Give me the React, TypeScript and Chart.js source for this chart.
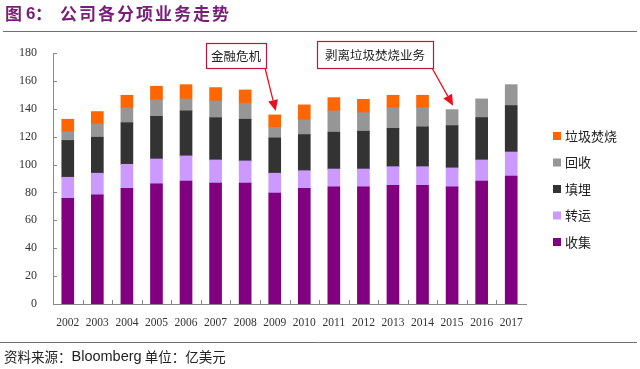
import React, { useEffect, useRef } from "react";
import { Chart, registerables } from "chart.js";

Chart.register(...registerables);

const years = ["2002","2003","2004","2005","2006","2007","2008","2009","2010","2011","2012","2013","2014","2015","2016","2017"];
const collect = [75.8, 78.2, 83, 86.1, 88.2, 86.8, 86.8, 79.6, 83, 84.1, 84.1, 85.1, 85.1, 84.1, 88.2, 91.8];
const transfer = [15.1, 15.6, 17.2, 17.9, 18, 16.5, 15.8, 14.2, 12.6, 12.7, 12.7, 13.4, 13.4, 13.5, 15.1, 17.2];
const landfill = [26.4, 25.8, 29.8, 30.6, 32.3, 30.3, 29.9, 25.3, 25.9, 26.4, 27.1, 27.5, 28.5, 30.3, 30.4, 33.3];
const recycle = [6.3, 9.5, 10.6, 11.7, 8.5, 12, 11.5, 7.4, 10.5, 15.3, 13.3, 14.8, 13.8, 11.5, 13.4, 15];
const incinerate: (number | null)[] = [8.9, 8.9, 9.1, 9.9, 10.3, 9.6, 9.5, 9.1, 10.8, 9.5, 9.6, 8.9, 8.9, null, null, null];
const seriesNames = ["收集", "转运", "填埋", "回收", "垃圾焚烧"];
const seriesColors = ["#800080", "#CC99FF", "#333333", "#969696", "#FF6600"];
const yTicks = [0, 20, 40, 60, 80, 100, 120, 140, 160, 180];
const titleText = "图 6：公司各分项业务走势";
const sourceText = "资料来源：";
const sourceName = "Bloomberg";
const unitText = " 单位：亿美元";
const annotations = [
  { text: "金融危机", year: "2009", box: [206, 43, 60, 25] },
  { text: "剥离垃圾焚烧业务", year: "2015", box: [317, 41, 116, 27] },
];

const CJK = '"Noto Sans CJK SC", "Noto Sans", sans-serif';
const SERIF = '"Liberation Serif", "DejaVu Serif", serif';

const decor = {
  id: "decor",
  afterDraw(chart: any) {
    const { ctx, chartArea, scales } = chart;
    const xs = scales.x;
    const ys = scales.y;
    ctx.save();

    // title
    ctx.fillStyle = "#781E78";
    ctx.textBaseline = "middle";
    ctx.textAlign = "left";
    ctx.font = `bold 17px ${CJK}`;
    ctx.fillText("图", 5, 14);
    ctx.font = `bold 17px "Liberation Sans", Arial, sans-serif`;
    ctx.fillText("6", 26, 14);
    ctx.font = `bold 17px ${CJK}`;
    ctx.fillText("：", 35, 14);
    const rest = titleText.slice(4);
    for (let i = 0; i < rest.length; i++) {
      ctx.fillText(rest[i], 60 + i * 19, 14);
    }
    // title line
    ctx.strokeStyle = "#707070";
    ctx.lineWidth = 1;
    ctx.beginPath();
    ctx.moveTo(3, 31.5);
    ctx.lineTo(637, 31.5);
    ctx.stroke();

    // footer line
    ctx.beginPath();
    ctx.moveTo(0, 342.5);
    ctx.lineTo(637, 342.5);
    ctx.stroke();
    ctx.fillStyle = "#222";
    ctx.font = `13.5px ${CJK}`;
    ctx.fillText(sourceText, 4, 357);
    let fx = 4 + ctx.measureText(sourceText).width;
    ctx.font = `14.5px "Liberation Sans", Arial, sans-serif`;
    ctx.fillText(sourceName, fx, 357);
    fx += ctx.measureText(sourceName).width;
    ctx.font = `13.5px ${CJK}`;
    ctx.fillText(unitText, fx, 357);

    // y-axis inner ticks
    ctx.strokeStyle = "#888";
    ctx.lineWidth = 1;
    yTicks.forEach((v) => {
      const py = Math.round(ys.getPixelForValue(v)) + 0.5;
      ctx.beginPath();
      ctx.moveTo(chartArea.left, py);
      ctx.lineTo(chartArea.left + 4, py);
      ctx.stroke();
    });
    // x-axis inner ticks (category boundaries)
    for (let i = 1; i < years.length; i++) {
      const px = Math.round((xs.getPixelForValue(i - 1) + xs.getPixelForValue(i)) / 2) + 0.5;
      ctx.beginPath();
      ctx.moveTo(px, chartArea.bottom);
      ctx.lineTo(px, chartArea.bottom - 4);
      ctx.stroke();
    }

    // legend
    ctx.font = `13px ${CJK}`;
    ctx.textBaseline = "middle";
    const lx = chartArea.right + 27;
    for (let k = 0; k < 5; k++) {
      const idx = 4 - k;
      const cy = 136 + k * 26.5;
      ctx.fillStyle = seriesColors[idx];
      ctx.fillRect(lx, cy - 4, 8, 8);
      ctx.fillStyle = "#222";
      ctx.fillText(seriesNames[idx], lx + 12, cy);
    }

    // annotations
    annotations.forEach((a) => {
      const i = years.indexOf(a.year);
      const total = collect[i] + transfer[i] + landfill[i] + recycle[i] + (incinerate[i] || 0);
      const tipX = xs.getPixelForValue(i) + 1;
      const tipY = ys.getPixelForValue(total + 2.8);
      const [bx, by, bw, bh] = a.box;
      ctx.fillStyle = "#fff";
      ctx.fillRect(bx, by, bw, bh);
      ctx.strokeStyle = "#C0143C";
      ctx.lineWidth = 1.2;
      ctx.strokeRect(bx + 0.5, by + 0.5, bw, bh);
      ctx.fillStyle = "#222";
      ctx.font = `12.5px ${CJK}`;
      ctx.textAlign = "center";
      ctx.fillText(a.text, bx + bw / 2, by + bh / 2 + 0.5);
      ctx.textAlign = "left";
      // arrow
      const sx = bx + bw - 1;
      const sy = by + bh;
      const ang = Math.atan2(tipY - sy, tipX - sx);
      const headLen = 11;
      const headW = 5;
      const baseX = tipX - headLen * Math.cos(ang);
      const baseY = tipY - headLen * Math.sin(ang);
      ctx.strokeStyle = "#E8101E";
      ctx.lineWidth = 1.3;
      ctx.beginPath();
      ctx.moveTo(sx, sy);
      ctx.lineTo(baseX, baseY);
      ctx.stroke();
      ctx.fillStyle = "#E8101E";
      ctx.beginPath();
      ctx.moveTo(tipX, tipY);
      ctx.lineTo(baseX + headW * Math.sin(ang), baseY - headW * Math.cos(ang));
      ctx.lineTo(baseX - headW * Math.sin(ang), baseY + headW * Math.cos(ang));
      ctx.closePath();
      ctx.fill();
    });

    ctx.restore();
  },
};

export default function App() {
  const ref = useRef<HTMLCanvasElement | null>(null);
  useEffect(() => {
    if (!ref.current) return;
    const data = [collect, transfer, landfill, recycle, incinerate];
    const chart = new Chart(ref.current, {
      type: "bar",
      data: {
        labels: years,
        datasets: data.map((d, i) => ({
          label: seriesNames[i],
          data: d,
          backgroundColor: seriesColors[i],
          borderWidth: 0,
          barThickness: 12,
        })),
      },
      options: {
        responsive: false,
        animation: false,
        layout: { padding: { left: 0, top: 53, right: 114, bottom: 0 } },
        plugins: {
          legend: { display: false },
          tooltip: { enabled: false },
        },
        scales: {
          x: {
            stacked: true,
            grid: { display: false, drawTicks: false },
            border: { display: true, color: "#888", width: 1 },
            ticks: {
              color: "#333",
              font: { family: SERIF, size: 11.5 },
              padding: 12,
              maxRotation: 0,
              autoSkip: false,
            },
            afterFit: (s: any) => {
              s.height = 65;
            },
          },
          y: {
            stacked: true,
            min: 0,
            max: 180,
            grid: { display: false, drawTicks: false },
            border: { display: true, color: "#888", width: 1 },
            ticks: {
              stepSize: 20,
              color: "#333",
              font: { family: SERIF, size: 12 },
              padding: 16,
            },
            afterFit: (s: any) => {
              s.width = 53;
            },
          },
        },
      },
      plugins: [decor],
    });
    return () => chart.destroy();
  }, []);
  return (
    <div style={{ position: "fixed", left: 0, top: 0, width: 640, height: 369, background: "#fff" }}>
      <canvas ref={ref} width={640} height={369} style={{ width: 640, height: 369, display: "block" }} />
    </div>
  );
}
